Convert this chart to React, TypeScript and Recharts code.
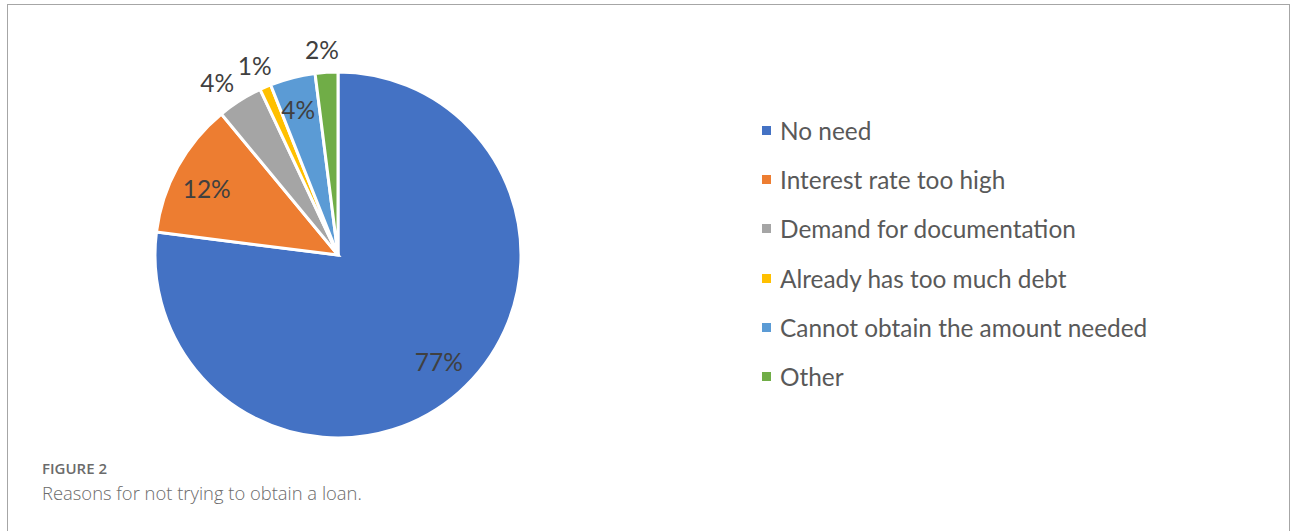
import React from "react"
import { PieChart, Pie, Cell, Legend } from "recharts"

const categories = [
  "No need",
  "Interest rate too high",
  "Demand for documentation",
  "Already has too much debt",
  "Cannot obtain the amount needed",
  "Other",
]
const shares = [77, 12, 4, 1, 4, 2]
const colors = ["#4472C4", "#ED7D31", "#A5A5A5", "#FFC000", "#5B9BD5", "#70AD47"]

const chartData = categories.map((name, i) => ({ name, value: shares[i] }))

// Excel "best fit" placement: big slices inside, thin ones outside,
// plus a small pixel nudge so they sit where Excel put them
const LABEL_RADIUS = [0.8, 0.8, 1.16, 1.12, 0.83, 1.13]
const LABEL_NUDGE = [
  [4, -3],
  [-3, 4],
  [-7, 7],
  [-2, -1],
  [-2, 2],
  [-3, 1],
]
const RAD = Math.PI / 180
const FONT = "Lato, 'Open Sans', sans-serif"

function SliceLabel({ cx, cy, midAngle, outerRadius, index, value }: any) {
  const r = outerRadius * LABEL_RADIUS[index]
  const x = cx + r * Math.cos(-midAngle * RAD) + LABEL_NUDGE[index][0]
  const y = cy + r * Math.sin(-midAngle * RAD) + LABEL_NUDGE[index][1]
  return (
    <text
      x={x}
      y={y}
      fill="#404040"
      fontSize={24.5}
      fontFamily={FONT}
      textAnchor="middle"
      dominantBaseline="central"
    >
      {value}%
    </text>
  )
}

// legend keeps the data order (recharts would sort it by name)
function LegendList() {
  return (
    <ul style={{ listStyle: "none", margin: 0, padding: 0 }}>
      {categories.map((name, i) => (
        <li
          key={name}
          style={{
            display: "flex",
            alignItems: "center",
            height: 49.2,
            fontFamily: FONT,
            fontSize: 24.4,
            color: "#595959",
          }}
        >
          <span
            style={{
              width: 9,
              height: 9,
              background: colors[i],
              display: "inline-block",
              marginRight: 9,
            }}
          />
          {name}
        </li>
      ))}
    </ul>
  )
}

export default function App() {
  return (
    <div
      style={{
        position: "absolute",
        left: 0,
        top: 0,
        width: 1293,
        height: 531,
        background: "#fff",
        overflow: "hidden",
      }}
    >
      <div
        style={{
          position: "absolute",
          left: 7,
          top: 4,
          width: 1281,
          height: 540,
          border: "1px solid #a6a6a6",
        }}
      />
      <div style={{ position: "absolute", left: 0, top: 0 }}>
        <PieChart
          width={1293}
          height={531}
          margin={{ top: 0, right: 0, bottom: 0, left: 0 }}
        >
          <Pie
            data={chartData}
            dataKey="value"
            nameKey="name"
            cx={338}
            cy={255}
            outerRadius={183}
            startAngle={90}
            endAngle={-270}
            stroke="#fff"
            strokeWidth={3}
            label={SliceLabel}
            labelLine={false}
            isAnimationActive={false}
          >
            {chartData.map((d, i) => (
              <Cell key={d.name} fill={colors[i]} />
            ))}
          </Pie>
          <Legend
            layout="vertical"
            content={LegendList}
            wrapperStyle={{ left: 762, top: 106, width: 420 }}
          />
        </PieChart>
      </div>
      <div
        style={{
          position: "absolute",
          left: 42,
          top: 458,
          fontFamily: "'Open Sans', sans-serif",
          color: "#6b6b6b",
        }}
      >
        <div style={{ fontSize: 15, fontWeight: 600, lineHeight: "20px" }}>FIGURE 2</div>
        <div style={{ fontSize: 18.4, fontWeight: 300, lineHeight: "30px" }}>
          Reasons for not trying to obtain a loan.
        </div>
      </div>
    </div>
  )
}
